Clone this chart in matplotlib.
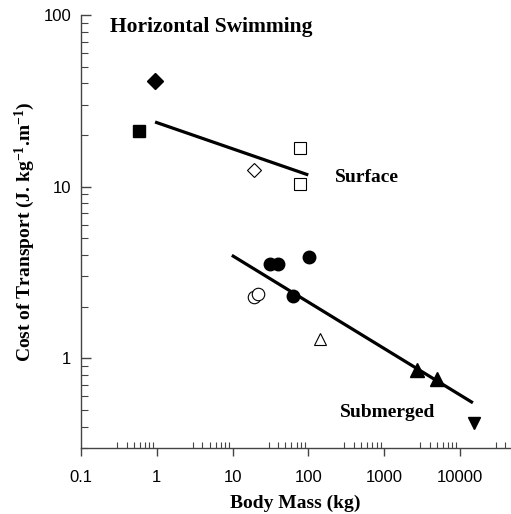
import matplotlib
matplotlib.use("Agg")
import matplotlib.pyplot as plt
from matplotlib.ticker import LogLocator, FixedLocator, NullFormatter, FixedFormatter

plt.rcParams['mathtext.fontset'] = 'custom'
plt.rcParams['mathtext.rm'] = 'Liberation Serif:bold'
plt.rcParams['mathtext.bf'] = 'Liberation Serif:bold'
plt.rcParams['mathtext.it'] = 'Liberation Serif:bold'

# --- data (body mass kg, cost of transport J/kg/m) ---
filled_diamond_mass = [0.95]
filled_diamond_cot = [41.0]
filled_square_mass = [0.58]
filled_square_cot = [21.2]
open_diamond_mass = [19.0]
open_diamond_cot = [12.5]
open_square_mass = [78.0, 78.0]
open_square_cot = [16.8, 10.4]
surface_line_mass = [0.95, 100.0]
surface_line_cot = [23.8, 11.7]

filled_circle_mass = [31.0, 39.5, 62.0, 102.0]
filled_circle_cot = [3.55, 3.55, 2.3, 3.9]
open_circle_mass = [19.2, 21.6]
open_circle_cot = [2.28, 2.36]
open_triangle_mass = [142.0]
open_triangle_cot = [1.3]
filled_triangle_mass = [2750.0, 5000.0]
filled_triangle_cot = [0.85, 0.755]
inv_triangle_mass = [15400.0]
inv_triangle_cot = [0.42]
submerged_line_mass = [9.8, 14900.0]
submerged_line_cot = [3.98, 0.55]

x_ticks = [0.1, 1, 10, 100, 1000, 10000]
x_tick_labels = ['0.1', '1', '10', '100', '1000', '10000']
y_ticks = [1, 10, 100]
y_tick_labels = ['1', '10', '100']

fig = plt.figure(figsize=(5.11, 5.14), dpi=100)
ax = fig.add_axes([81/511, 66/514, 1 - 81/511 - 0.002, (448 - 15)/514])
ax.set_xscale('log')
ax.set_yscale('log')
ax.set_xlim(0.1, 4.6e4)
ax.set_ylim(0.3, 100)

lw = 2.3
ax.plot(surface_line_mass, surface_line_cot, color='black', lw=lw, solid_capstyle='butt', zorder=2)
ax.plot(submerged_line_mass, submerged_line_cot, color='black', lw=lw, solid_capstyle='butt', zorder=2)

ax.plot(filled_diamond_mass, filled_diamond_cot, 'D', color='black', ms=8, zorder=3)
ax.plot(filled_square_mass, filled_square_cot, 's', color='black', ms=8, zorder=3)
ax.plot(open_diamond_mass, open_diamond_cot, 'D', mfc='white', mec='black', mew=0.8, ms=7, zorder=3)
ax.plot(open_square_mass, open_square_cot, 's', mfc='white', mec='black', mew=0.8, ms=8, zorder=3)

ax.plot(open_circle_mass, open_circle_cot, 'o', mfc='white', mec='black', mew=0.8, ms=9, zorder=3)
ax.plot(filled_circle_mass, filled_circle_cot, 'o', color='black', ms=9, zorder=3)
ax.plot(open_triangle_mass, open_triangle_cot, '^', mfc='white', mec='black', mew=0.8, ms=9, zorder=3)
ax.plot(filled_triangle_mass, filled_triangle_cot, '^', color='black', ms=9.5, zorder=3)
ax.plot(inv_triangle_mass, inv_triangle_cot, 'v', color='black', ms=9, zorder=3)

serif = 'Liberation Serif'
ax.text(0.24, 85, 'Horizontal Swimming', fontfamily=serif, fontweight='bold', fontsize=15.5, va='center', ha='left')
ax.text(225, 11.3, 'Surface', fontfamily=serif, fontweight='bold', fontsize=14, va='center', ha='left')
ax.text(265, 0.48, 'Submerged', fontfamily=serif, fontweight='bold', fontsize=14, va='center', ha='left')

ax.set_xlabel('Body Mass (kg)', fontfamily=serif, fontweight='bold', fontsize=14, labelpad=7)
ax.set_ylabel(r'Cost of Transport (J. kg$^{\mathbf{-1}}$.m$^{\mathbf{-1}}$)', fontfamily=serif,
              fontweight='bold', fontsize=14, labelpad=5)

for s in ['top', 'right']:
    ax.spines[s].set_visible(False)
for s in ['left', 'bottom']:
    ax.spines[s].set_color('#444444')
    ax.spines[s].set_linewidth(1.0)

ax.xaxis.set_major_locator(FixedLocator(x_ticks))
ax.xaxis.set_major_formatter(FixedFormatter(x_tick_labels))
ax.xaxis.set_minor_locator(LogLocator(base=10, subs=[3, 4, 5, 6, 7, 8, 9]))
ax.xaxis.set_minor_formatter(NullFormatter())
ax.yaxis.set_major_locator(FixedLocator(y_ticks))
ax.yaxis.set_major_formatter(FixedFormatter(y_tick_labels))
ax.yaxis.set_minor_locator(LogLocator(base=10, subs=[2, 3, 4, 5, 6, 7, 8, 9]))
ax.yaxis.set_minor_formatter(NullFormatter())

ax.tick_params(axis='x', which='major', direction='out', length=6, width=1, color='#444444', pad=10)
ax.tick_params(axis='x', which='minor', direction='in', length=4, width=0.8, color='#444444')
ax.tick_params(axis='y', which='major', direction='in', length=7, width=1, color='#444444', pad=7)
ax.tick_params(axis='y', which='minor', direction='in', length=5, width=0.8, color='#444444')
for lab in ax.get_xticklabels() + ax.get_yticklabels():
    lab.set_fontfamily('Liberation Sans')
    lab.set_fontsize(12)

fig.savefig('out.png', dpi=100)
